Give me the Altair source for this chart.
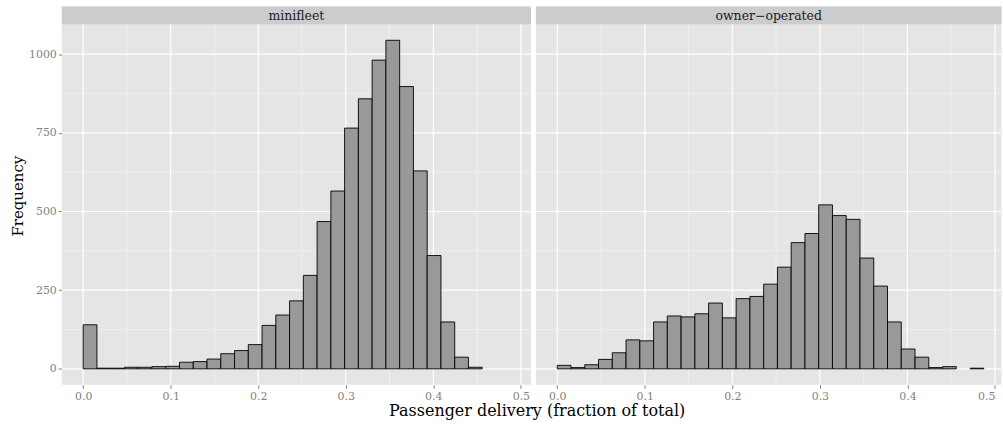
import altair as alt
import pandas as pd

# Histogram of passenger delivery share, one panel per operating model
PANELS = ["minifleet", "owner\u2212operated"]

# Counts per bin (bins start at 0 and share one width across both panels)
MINIFLEET_COUNTS = [140, 2, 2, 5, 5, 7, 8, 21, 23, 31, 48, 58, 77, 138, 171, 216,
                    297, 468, 565, 765, 858, 981, 1044, 897, 629, 360, 149, 37, 5]
OWNER_COUNTS = [11, 4, 13, 30, 51, 92, 89, 149, 168, 165, 175, 209, 162, 223, 230,
                269, 323, 401, 430, 521, 487, 475, 352, 263, 149, 63, 37, 4, 7, None, 2]

BIN_WIDTH = 0.4873 / 31

X_TICKS = [0.0, 0.1, 0.2, 0.3, 0.4, 0.5]
X_MINOR = [0.05, 0.15, 0.25, 0.35, 0.45]
Y_TICKS = [0, 250, 500, 750, 1000]
Y_MINOR = [125, 375, 625, 875]

FONT = "DejaVu Serif"
PANEL_BG = "#E5E5E5"
STRIP_BG = "#CCCCCC"
MINOR_GRID = "#F2F2F2"
TICK_GREY = "#7F7F7F"

X_START = -0.0244
PX_PER_UNIT = 878.0
HEIGHT = 379.3
Y_DOMAIN = [-50.7, 1151.0]
STRIP_H = 17.7


def bins_frame(counts):
    rows = []
    for i, c in enumerate(counts):
        if c is None:
            continue
        rows.append({"x0": i * BIN_WIDTH, "x1": (i + 1) * BIN_WIDTH, "count": c})
    return pd.DataFrame(rows)


def panel(name, counts, width, show_y):
    x_end = X_START + width / PX_PER_UNIT
    xs = alt.Scale(domain=[X_START, x_end], nice=False, zero=False)
    ys = alt.Scale(domain=Y_DOMAIN, nice=False, zero=False)

    x_axis = alt.Axis(values=X_TICKS, format=".1f", title=None, grid=False,
                      domain=False, tickColor=TICK_GREY, tickSize=3.5,
                      labelColor=TICK_GREY, labelFont=FONT, labelFontSize=11,
                      labelPadding=2, labelFlush=12 if not show_y else False)
    if show_y:
        y_axis = alt.Axis(values=Y_TICKS, format="d", title="Frequency", grid=False,
                          domain=False, tickColor=TICK_GREY, tickSize=3.5,
                          labelColor=TICK_GREY, labelFont=FONT, labelFontSize=11,
                          labelPadding=2, titleFont=FONT, titleFontSize=15,
                          titleFontWeight="normal", titleColor="black",
                          titlePadding=3)
    else:
        y_axis = None

    def vrules(vals, color, w):
        return alt.Chart(pd.DataFrame({"v": vals})).mark_rule(
            color=color, strokeWidth=w).encode(
            x=alt.X("v:Q", scale=xs, axis=x_axis))

    def hrules(vals, color, w):
        return alt.Chart(pd.DataFrame({"v": vals})).mark_rule(
            color=color, strokeWidth=w).encode(
            y=alt.Y("v:Q", scale=ys, axis=y_axis))

    bars = alt.Chart(bins_frame(counts)).mark_rect(
        fill="#999999", stroke="#000000", strokeWidth=1, strokeOpacity=0.9
    ).encode(
        x=alt.X("x0:Q", scale=xs, axis=x_axis),
        x2="x1:Q",
        y=alt.Y("count:Q", scale=ys, axis=y_axis),
        y2=alt.datum(0),
    )

    label_df = pd.DataFrame({"panel": [name]})
    strip = alt.Chart(label_df).mark_rect(fill=STRIP_BG).encode(
        x=alt.value(0), x2=alt.value(width),
        y=alt.value(0), y2=alt.value(STRIP_H))
    strip_text = alt.Chart(label_df).mark_text(
        font=FONT, fontSize=12.5, color="#1A1A1A", baseline="middle", align="center"
    ).encode(x=alt.value(width / 2), y=alt.value(STRIP_H / 2 + 0.5), text="panel:N")

    return alt.layer(
        vrules(X_MINOR, MINOR_GRID, 0.8),
        hrules(Y_MINOR, MINOR_GRID, 0.8),
        vrules(X_TICKS, "white", 1.2),
        hrules(Y_TICKS, "white", 1.2),
        bars,
        strip,
        strip_text,
    ).properties(width=width, height=HEIGHT)


left = panel(PANELS[0], MINIFLEET_COUNTS, 470.5, True)
right = panel(PANELS[1], OWNER_COUNTS, 467, False)

chart = alt.hconcat(left, right, spacing=2.5).properties(
    padding={"left": 10, "top": 5, "right": 0, "bottom": 5},
    title=alt.TitleParams(
        "Passenger delivery (fraction of total)", orient="bottom", anchor="middle",
        font=FONT, fontSize=16, fontWeight="normal", color="black", offset=2, dx=31),
).configure(font=FONT, background="white").configure_view(
    fill=PANEL_BG, stroke=None)

chart.save("out.html", embed_options={"renderer": "svg", "actions": False})
